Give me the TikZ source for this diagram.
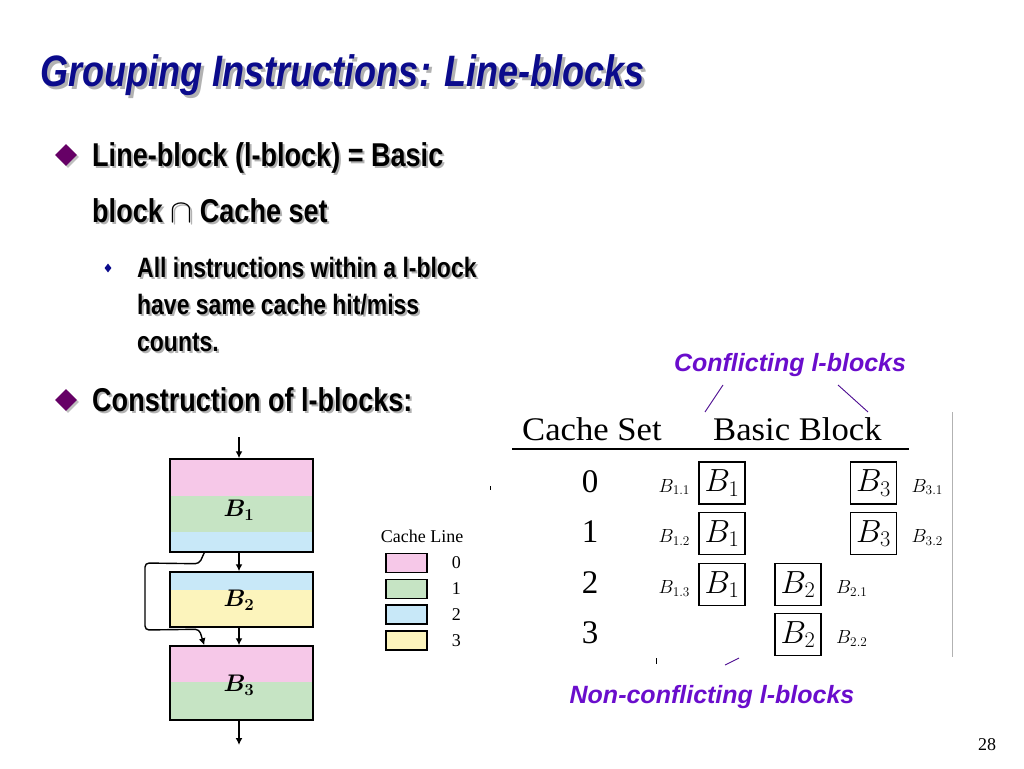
\RequirePackage{fix-cm}
\documentclass[tikz,border=0pt]{standalone}
\usepackage{amsmath}
\usepackage{amssymb}
\usepackage{fontspec}
\setmainfont{Liberation Serif}
\newfontfamily\narrowsans[FakeStretch=0.82]{Liberation Sans}
\newfontfamily\labelsans{Liberation Sans}
\newfontfamily\tabfont[FakeStretch=1.05]{Liberation Serif}
\usetikzlibrary{positioning, arrows.meta, shapes.geometric, shadows, calc}
\definecolor{titleblue}{HTML}{0B0B8C}
\definecolor{bulletpurple}{HTML}{660066}
\definecolor{notepurple}{HTML}{6A0DCC}
\definecolor{linepink}{HTML}{F6C8E8}
\definecolor{linegreen}{HTML}{C6E4C4}
\definecolor{lineblue}{HTML}{C8E8F8}
\definecolor{lineyellow}{HTML}{FCF4BC}
% text with a grey shadow behind it
\newcommand{\shtext}[2][2pt]{\makebox[0pt][l]{\hspace{#1}\raisebox{-#1}{\color{black!30}#2}}#2}
\tikzset{%
  titletext/.style={inner sep=0pt, text=titleblue, font=\narrowsans\bfseries\itshape\fontsize{44}{50}\selectfont},
  mainitem/.style={inner sep=0pt, font=\narrowsans\bfseries\fontsize{33}{40}\selectfont},
  subitem/.style={inner sep=0pt, font=\narrowsans\bfseries\fontsize{28}{34}\selectfont},
  bigbullet/.style={diamond, fill=bulletpurple, inner sep=0pt, minimum size=22pt,
    drop shadow={shadow xshift=2pt, shadow yshift=-2pt, fill=black!50}},
  smallbullet/.style={diamond, fill=titleblue, inner sep=0pt, minimum width=7pt, minimum height=9pt},
  bframe/.style={draw, line width=1.5pt, minimum width=143pt, inner sep=0pt},
  blabel/.style={inner sep=0pt, font=\fontsize{24}{28}\selectfont},
  flow/.style={-{Latex[length=7pt,width=7pt]}, line width=1.4pt},
  swatch/.style={draw, line width=1.3pt, minimum width=41pt, minimum height=19pt, inner sep=0pt},
  legendtext/.style={inner sep=0pt, font=\fontsize{18}{20}\selectfont},
  tabhead/.style={inner sep=0pt, font=\tabfont\fontsize{33}{38}\selectfont},
  tabnum/.style={inner sep=0pt, font=\fontsize{33}{38}\selectfont},
  bbox/.style={draw, line width=1.8pt, minimum width=46pt, minimum height=42pt, inner sep=1pt,
    font=\fontsize{32}{36}\selectfont},
  sublabel/.style={inner sep=0pt, font=\fontsize{19}{22}\selectfont},
  note/.style={inner sep=0pt, text=notepurple, font=\labelsans\bfseries\itshape\fontsize{25}{30}\selectfont},
  pointer/.style={draw=notepurple!70!black, line width=0.9pt}
}
\begin{document}
\begin{tikzpicture}[x=1pt, y=-1pt, node distance=8pt]
\useasboundingbox (0,0) rectangle (1024,768);

\node[titletext, anchor=base west] (title) at (40,86) {\shtext[3pt]{Grouping Instructions: Line-blocks}};

\node[bigbullet] (d1) at (66,155) {};
\node[mainitem, anchor=base west] (l1a) at (92,166) {\shtext{Line-block (l-block) = Basic}};
\node[mainitem, anchor=base west] (l1b) at (92,222) {\shtext{block $\cap$ Cache set}};
\node[smallbullet] (d2) at (108,268) {};
\node[subitem, anchor=base west] (s1) at (137,277) {\shtext{All instructions within a l-block}};
\node[subitem, anchor=base west] (s2) at (137,314) {\shtext{have same cache hit/miss}};
\node[subitem, anchor=base west] (s3) at (137,351) {\shtext{counts.}};
\node[bigbullet] (d3) at (66,400) {};
\node[mainitem, anchor=base west] (l2) at (92,411) {\shtext{Construction of l-blocks:}};

% basic blocks, coloured by cache line
\fill[linepink] (170,459) rectangle (313,496);
\fill[linegreen] (170,496) rectangle (313,532);
\fill[lineblue] (170,532) rectangle (313,552);
\fill[lineblue] (170,572) rectangle (313,590);
\fill[lineyellow] (170,590) rectangle (313,627);
\fill[linepink] (170,646) rectangle (313,682);
\fill[linegreen] (170,682) rectangle (313,720);
\node[bframe, minimum height=93pt] (b1) at (241.5,505.5) {};
\node[bframe, minimum height=55pt] (b2) at (241.5,599.5) {};
\node[bframe, minimum height=74pt] (b3) at (241.5,683) {};
\node[blabel] (b1l) at (239,510) {$\boldsymbol{B_1}$};
\node[blabel] (b2l) at (239,600) {$\boldsymbol{B_2}$};
\node[blabel] (b3l) at (239,685) {$\boldsymbol{B_3}$};

\coordinate (in) at (239,437);
\coordinate (out) at (239,745);
\draw[flow] (in) -- (in |- b1.north);
\draw[flow] (b1.south -| in) -- (b2.north -| in);
\draw[flow] (b2.south -| in) -- (b3.north -| in);
\draw[flow] (b3.south -| in) -- (out);
\coordinate (jmp) at ($(b1.south west)+(35,0)$);
\coordinate (land) at ($(b3.north west)+(35,0)$);
\draw[flow, rounded corners=4pt] (jmp) -- ++(-5,11) -- (145,563) -- (145,630) -- ($(land)+(-5,-16)$) -- (land);

% legend
\node[legendtext] (lgd) at (422,536) {Cache Line};
\foreach \c [count=\i from 0] in {linepink,linegreen,lineblue,lineyellow} {
  \node[swatch, fill=\c] (sw\i) at (406.5,563+25.8*\i) {};
  \node[legendtext, right=24pt of sw\i] (num\i) {\i};
}

% table of cache sets
\node[tabhead, anchor=base west] (cset) at (522,440) {Cache Set};
\node[tabhead, anchor=base west] (bblock) at (713,440) {Basic Block};
\draw[line width=1.5pt] (512,449) -- (909,449);
\foreach \r/\y in {0/482,1/532,2/583,3/633}
  \node[tabnum] (set\r) at (590,\y) {\r};

\foreach \y [count=\i] in {483,533.5,584.5} {
  \node[bbox] (bA\i) at (722,\y) {$B_1$};
  \node[sublabel, left=8pt of bA\i, yshift=-4pt] (bA\i l) {$B_{1.\i}$};
}
\foreach \y [count=\i] in {584.5,634.5} {
  \node[bbox] (bB\i) at (798,\y) {$B_2$};
  \node[sublabel, right=14pt of bB\i, yshift=-4pt] (bB\i l) {$B_{2.\i}$};
}
\begin{scope}
\clip (0,0) rectangle (952,768);
\foreach \y [count=\i] in {483,533.5} {
  \node[bbox] (bC\i) at (873.5,\y) {$B_3$};
  \node[sublabel, right=14pt of bC\i, yshift=-4pt] (bC\i l) {$B_{3.\i}$};
}
\end{scope}
\draw[black!30] (952,412) -- (952,657);
\coordinate (dot1) at (490,486);
\coordinate (dot2) at (490,490);
\draw[line width=1pt] (dot1) -- (dot2);

% labels with pointers
\node[note] (conf) at (790,365) {Conflicting l-blocks};
\coordinate (cfa) at (723,385);
\coordinate (cfb) at (705,412);
\coordinate (cfc) at (838,385);
\coordinate (cfd) at (868,412);
\draw[pointer] (cfa) -- (cfb);
\draw[pointer] (cfc) -- (cfd);
\node[note] (nconf) at (712,697) {Non-conflicting l-blocks};
\coordinate (nca) at (656,658);
\coordinate (ncb) at (656,664);
\coordinate (ncc) at (725,665);
\coordinate (ncd) at (739,658);
\draw[line width=1pt] (nca) -- (ncb);
\draw[pointer] (ncc) -- (ncd);

\node[legendtext] (pg) at (987,745) {28};
\end{tikzpicture}
\end{document}
